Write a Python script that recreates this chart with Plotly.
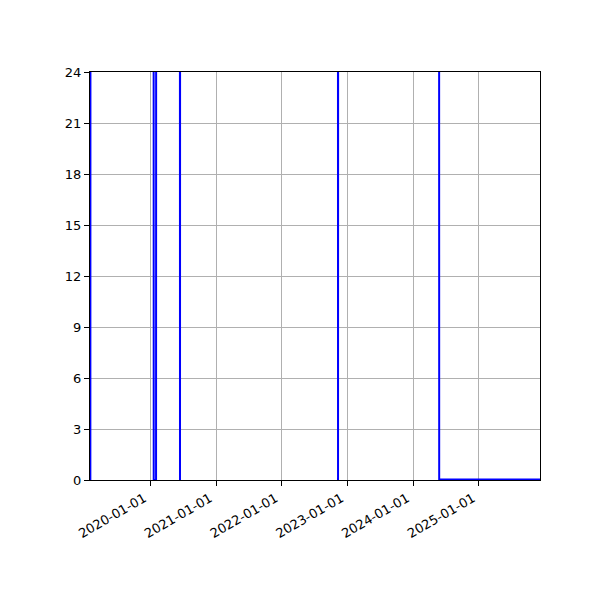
import plotly.graph_objects as go

# daily readings (hours); readings above 24 run off the top of the chart
dates = [
    "2019-02-03", "2019-02-04",
    "2020-01-20", "2020-01-21", "2020-02-03", "2020-02-04",
    "2020-06-14", "2020-06-15", "2020-06-16",
    "2022-11-09", "2022-11-10", "2022-11-11",
    "2024-05-24", "2024-05-25", "2025-12-06",
]
hours = [
    0.0, 60.0,
    60.0, 0.0, 0.0, 60.0,
    60.0, 0.0, 60.0,
    60.0, 0.0, 60.0,
    60.0, 0.03, 0.03,
]

x_range = ["2019-02-01", "2025-12-06"]
y_ticks = list(range(0, 25, 3))
x_ticks = ["2020-01-01", "2021-01-01", "2022-01-01", "2023-01-01", "2024-01-01", "2025-01-01"]

fig = go.Figure()
fig.add_trace(go.Scatter(x=dates, y=hours, mode="lines",
                         line=dict(color="blue", width=2), showlegend=False))

axis_style = dict(showline=True, linecolor="black", linewidth=1, mirror=True,
                  ticks="outside", ticklen=5, tickcolor="black",
                  showgrid=True, gridcolor="#b0b0b0", gridwidth=0.8,
                  zeroline=False, tickfont=dict(family="DejaVu Sans", size=13, color="black"))

fig.update_xaxes(range=x_range, tickvals=x_ticks, ticktext=x_ticks, tickangle=-30,
                 ticklabelshift=-6, **axis_style)
fig.update_yaxes(range=[0, 24], tickvals=y_ticks, **axis_style)

# the page keeps an 8px body margin, so the figure is a little smaller
fig.update_layout(width=592, height=592, plot_bgcolor="white", paper_bgcolor="white",
                  margin=dict(l=82, r=60, t=64, b=120))

fig.write_html("out.html")
